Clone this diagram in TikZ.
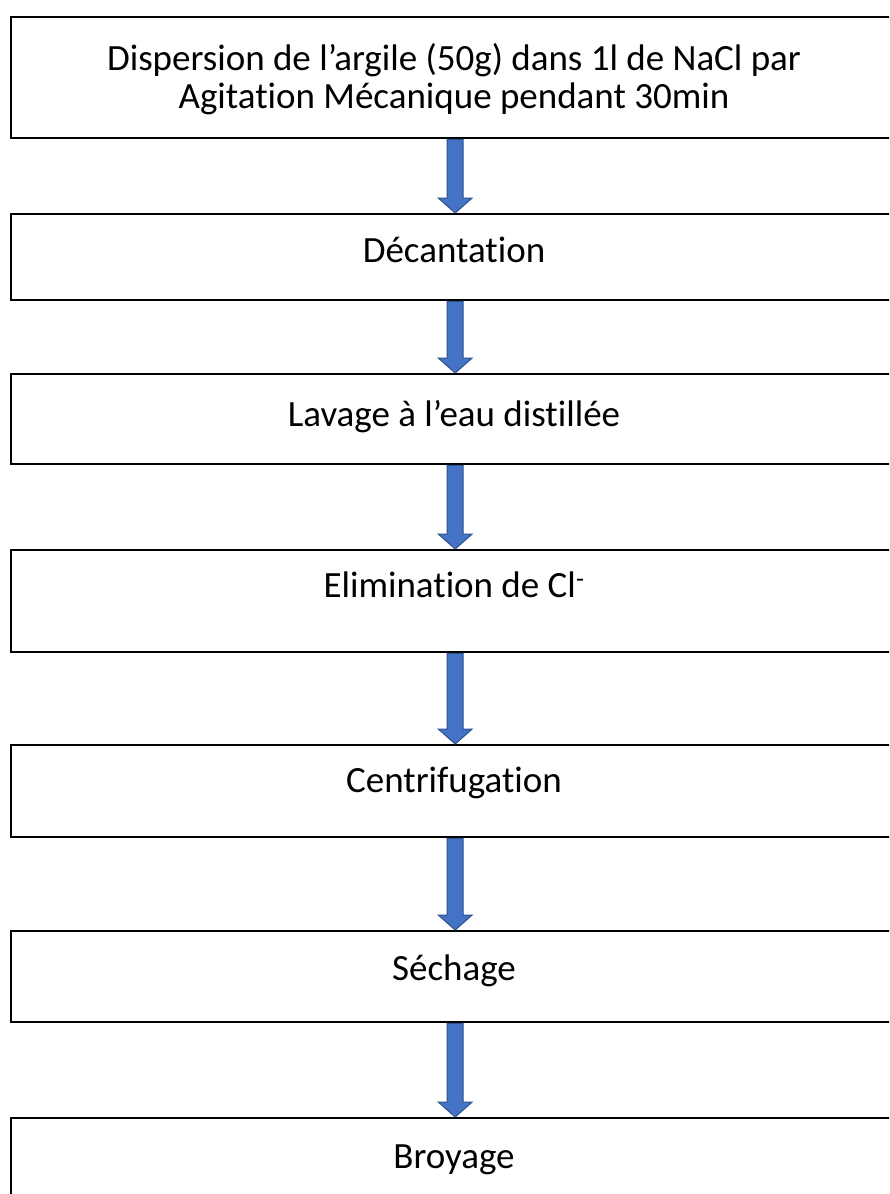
\documentclass[tikz,border=0pt]{standalone}
\usepackage{fontspec}
\setmainfont{Carlito}[Ligatures={NoCommon}]
\usetikzlibrary{calc}
\definecolor{arrowfill}{HTML}{4472C4}
\definecolor{arrowline}{HTML}{2F528F}
\tikzset{stepbox/.style={draw, line width=2.4, rectangle, inner sep=0pt,
    minimum width=888, anchor=north west}
}
\tikzset{steptext/.style={font=\fontsize{37}{38}\selectfont, anchor=base,
    align=center, inner sep=0pt}
}
\tikzset{flow/.style={fill=arrowfill, draw=arrowline, line width=1, line join=miter}
}
% block arrow from the bottom of #1 to the top of #2
\newcommand{\flowarrow}[2]{
    \draw[flow] let \p1 = (#1.south), \p2 = (#2.north) in
        (\x1-8pt,\y1) -- (\x1+8pt,\y1) -- (\x1+8pt,\y2+15pt) -- (\x1+17pt,\y2+15pt)
        -- (\x1,\y2) -- (\x1-17pt,\y2+15pt) -- (\x1-8pt,\y2+15pt) -- cycle;
}

\begin{document}
\begin{tikzpicture}[x=1pt, y=-1pt]

\clip (0,0) rectangle (889,1194);
\fill[white] (0,0) rectangle (889,1194);

\node[stepbox, minimum height=121] (disp) at (10,16) {};
\node[stepbox, minimum height=86] (dec) at (10,213) {};
\node[stepbox, minimum height=90] (lav) at (10,373) {};
\node[stepbox, minimum height=102] (elim) at (10,549) {};
\node[stepbox, minimum height=92] (centr) at (10,744) {};
\node[stepbox, minimum height=91] (sech) at (10,930) {};
\node[stepbox, minimum height=91] (broy) at (10,1117) {};

% anchor=base sits on the last line here
\node[steptext] (dispT) at (454,108) {Dispersion de l’argile (50g) dans 1l de NaCl par\\Agitation Mécanique pendant 30min};
\node[steptext] (decT) at (454,262) {Décantation};
\node[steptext] (lavT) at (454,426) {Lavage à l’eau distillée};
\node[steptext] (elimT) at (454,597) {Elimination de Cl\textsuperscript{-}};
\node[steptext] (centrT) at (454,792) {Centrifugation};
\node[steptext] (sechT) at (454,980) {Séchage};
\node[steptext] (broyT) at (454,1168) {Broyage};

\flowarrow{disp}{dec}
\flowarrow{dec}{lav}
\flowarrow{lav}{elim}
\flowarrow{elim}{centr}
\flowarrow{centr}{sech}
\flowarrow{sech}{broy}

\end{tikzpicture}
\end{document}
